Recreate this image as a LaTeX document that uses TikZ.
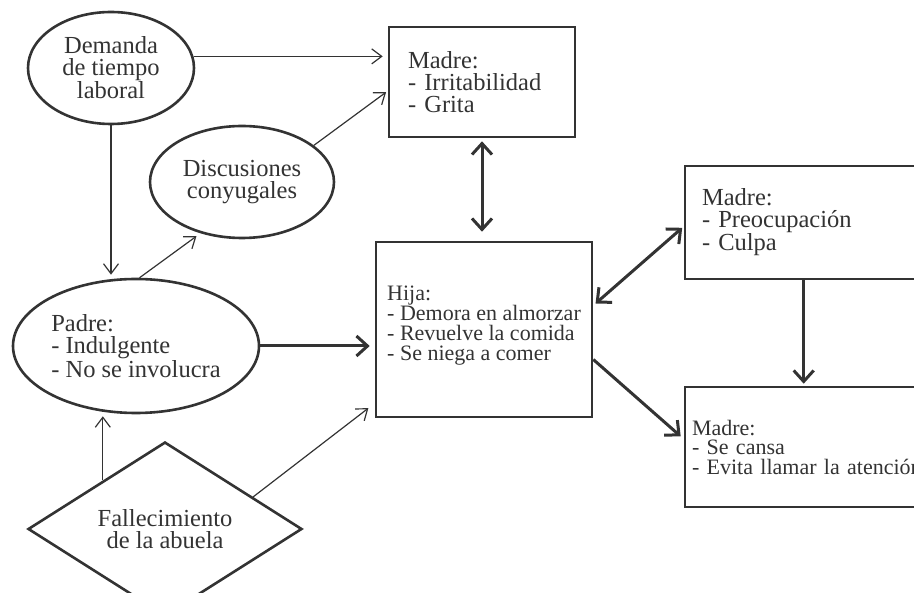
\documentclass[tikz,border=0pt]{standalone}
\usepackage{fontspec}
\setmainfont{Liberation Serif}
\usetikzlibrary{shapes.geometric,arrows.meta}
\definecolor{ink}{HTML}{333333}
\begin{document}
\begin{tikzpicture}[x=1pt,y=-1pt,
  base/.style={draw=ink, line width=2.6pt, text=ink, inner sep=0pt, font=\fontsize{24.5}{22}\selectfont},
  oval/.style={base, ellipse, align=center},
  box/.style={base, rectangle, align=left},
  smallfont/.style={font=\fontsize{22}{20}\selectfont},
  lowarrow/.style={draw=ink, line width=1.2pt, -{Straight Barb[length=10pt,width=15pt]}},
  higharrow/.style={draw=ink, line width=3pt, -{Straight Barb[length=11pt,width=20pt]}},
  bothArrow/.style={draw=ink, line width=3pt, {Straight Barb[length=11pt,width=20pt]}-{Straight Barb[length=11pt,width=20pt]}},
]
\useasboundingbox (0,0) rectangle (914,593);
\clip (0,0) rectangle (914,593);
\node[oval, minimum width=166pt, minimum height=112pt] (dem) at (111,68) {Demanda\\de tiempo\\laboral};
\node[oval, minimum width=184pt, minimum height=112pt] (disc) at (242,182) {Discusiones\\conyugales};
\node[oval, align=left, minimum width=246pt, minimum height=134pt] (pad) at (136,346) {Padre:\\- Indulgente\\- No se involucra};
\node[base, diamond, align=center, minimum width=274pt, minimum height=138pt] (fal) at (165,529) {Fallecimiento\\de la abuela};
\node[box, text width=148pt, inner xsep=19pt, minimum height=110pt] (m1) at (482,82) {Madre:\\- Irritabilidad\\- Grita};
\node[box, smallfont, minimum width=216pt, minimum height=175pt] (hija) at (484,329.5) {Hija:\\- Demora en almorzar\\- Revuelve la comida\\- Se niega a comer\\[-8pt]\mbox{}};
\node[box, text width=231pt, inner xsep=17pt, minimum height=113pt] (m2) at (817.5,222.5) {Madre:\\- Preocupación\\- Culpa};
\node[box, font=\fontsize{22}{19.5}\selectfont, text width=251pt, inner xsep=7pt, minimum height=120pt] (m3) at (817.5,447) {Madre:\\- Se cansa\\- Evita llamar la atención};

\draw[lowarrow, shorten >=5pt] (dem.8) -- (dem.8 -| m1.west);
\draw[lowarrow, shorten >=3pt] (dem.south) -- (dem.south |- pad.north);
\draw[lowarrow, shorten >=5pt] (pad.87) -- (disc.231);
\draw[lowarrow, shorten >=2pt] (disc.27) -- ([yshift=-9pt]m1.west);
\draw[higharrow, shorten >=5pt] (pad.east) -- (pad.east -| hija.west);
\draw[lowarrow, shorten >=2pt] (fal.142) -- (fal.142 |- pad.south);
\draw[lowarrow, shorten >=8pt] (fal.20) -- ([yshift=15pt]hija.south west);
\draw[bothArrow, shorten <=3pt, shorten >=9pt] (m1.south) -- (m1.south |- hija.north);
\draw[bothArrow, shorten <=3pt, shorten >=2pt] ([yshift=24pt]hija.east) -- ([yshift=-4pt]m2.west);
\draw[higharrow, shorten >=2pt] ([xshift=120pt]m2.south west) -- ([xshift=120pt]m3.north west);
\draw[higharrow, shorten >=4pt] ([yshift=-30pt]hija.east) -- ([yshift=8pt]m3.west);
\end{tikzpicture}
\end{document}
